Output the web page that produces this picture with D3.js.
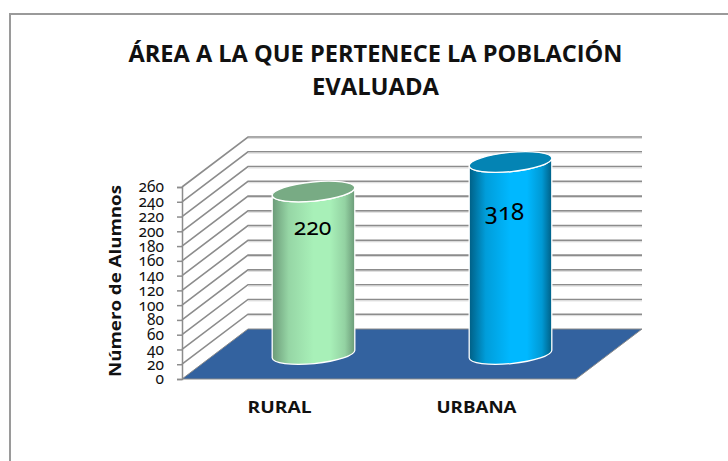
<!DOCTYPE html>
<html><head><meta charset="utf-8">
<script src="https://cdn.jsdelivr.net/npm/d3@7"></script>
<style>
html,body{margin:0;padding:0;background:#fff}
svg{display:block}
.num{font-family:"Noto Sans","Open Sans",sans-serif;font-variant-numeric:oldstyle-nums;font-feature-settings:"onum" 1}
</style></head><body>
<svg id="c" width="728" height="461"></svg>
<script>
const categories = ["RURAL","URBANA"];
const values = [220,318];
const bodyColors = ["#a8f0b8","#00b8ff"];
const edgeColors = ["#6b9a78","#005f85"];
const topColors = ["#78ab84","#0484b4"];
const yTicks = d3.range(0,261,20);
const titleLines = ["ÁREA A LA QUE PERTENECE LA POBLACIÓN","EVALUADA"];
const yTitle = "Número de Alumnos";

const svg = d3.select("#c");
const defs = svg.append("defs");
svg.append("path").attr("d","M10,461V14H728").attr("fill","none").attr("stroke","#9a9a9a").attr("stroke-width",2);
svg.append("g").selectAll("text").data(titleLines).join("text")
  .attr("x",375.5).attr("y",(d,i)=>62+i*32.5)
  .attr("text-anchor","middle").attr("font-family","'Open Sans',sans-serif").attr("font-weight",700)
  .attr("font-size",24).attr("textLength",(d,i)=>i?127:494).attr("lengthAdjust","spacingAndGlyphs")
  .attr("fill","#111").text(d=>d);

const y = d3.scaleLinear().domain([0,260]).range([379,187]).clamp(true);
const x = d3.scaleBand().domain(categories).range([182,576]);
const dx=66, dy=-50;
const g = svg.append("g");
const fl = d3.path();
fl.moveTo(x.range()[0],y(0)); fl.lineTo(x.range()[0]+dx,y(0)+dy); fl.lineTo(x.range()[1]+dx,y(0)+dy); fl.lineTo(x.range()[1],y(0)); fl.closePath();
g.append("path").attr("d",fl.toString()).attr("fill","#33629f").attr("stroke","#8a8a8a").attr("stroke-width",1);
yTicks.forEach(t=>{
  const yy=y(t);
  if(t>0){
    g.append("path").attr("d",`M${x.range()[0]},${yy}L${x.range()[0]+dx},${yy+dy}H${x.range()[1]+dx}`)
     .attr("fill","none").attr("stroke","#8c8c8c").attr("stroke-width",1.6);
    g.append("path").attr("d",`M${x.range()[0]+dx},${yy+dy+1.4}H${x.range()[1]+dx}`)
     .attr("fill","none").attr("stroke","#d9d9d9").attr("stroke-width",1);
  }
});
const ax = svg.append("g").attr("transform",`translate(${x.range()[0]},0)`)
  .call(d3.axisLeft(y).tickValues(yTicks).tickSize(5).tickPadding(13));
ax.selectAll("path,line").attr("stroke","#8c8c8c").attr("stroke-width",1.5);
ax.selectAll("text").attr("class","num").attr("font-size",15.5).attr("fill","#111");
svg.append("text").attr("transform","translate(121,281) rotate(-90)").attr("text-anchor","middle")
  .attr("font-family","'Open Sans',sans-serif").attr("font-weight",700).attr("font-size",16.5)
  .attr("textLength",192).attr("lengthAdjust","spacingAndGlyphs").attr("fill","#111").text(yTitle);
svg.append("g").selectAll("text").data(categories).join("text")
  .attr("x",d=>x(d)+x.bandwidth()/2-1).attr("y",413).attr("text-anchor","middle")
  .attr("font-family","'Open Sans',sans-serif").attr("font-weight",700).attr("font-size",16)
  .attr("textLength",d=>d==="RURAL"?64:80).attr("lengthAdjust","spacingAndGlyphs").attr("fill","#111").text(d=>d);
const rx=41.5, ry=9.6, tilt=-5.5;
categories.forEach((c,i)=>{
  const id="grad"+i;
  const gr=defs.append("linearGradient").attr("id",id).attr("x1",0).attr("x2",1).attr("y1",0).attr("y2",0);
  [[0,edgeColors[i]],[.2,d3.interpolateRgb(edgeColors[i],bodyColors[i])(.7)],[.5,bodyColors[i]],[.7,bodyColors[i]],[.88,d3.interpolateRgb(edgeColors[i],bodyColors[i])(.65)],[1,edgeColors[i]]]
    .forEach(s=>gr.append("stop").attr("offset",s[0]).attr("stop-color",s[1]));
  const cx=x(c)+x.bandwidth()/2+dx/2;
  const by=y(0)+dy/2, ty=y(values[i])+dy/2;
  const a=tilt*Math.PI/180;
  const lx=rx*Math.cos(a), ly=rx*Math.sin(a);
  const body=`M${cx-lx},${ty-ly}L${cx-lx},${by-ly}A${rx},${ry} ${tilt} 0 0 ${cx+lx},${by+ly}L${cx+lx},${ty+ly}A${rx},${ry} ${tilt} 0 1 ${cx-lx},${ty-ly}Z`;
  g.append("path").attr("d",body).attr("fill",`url(#${id})`).attr("stroke","#fff").attr("stroke-width",1.3);
  g.append("ellipse").attr("transform",`translate(${cx},${ty}) rotate(${tilt})`).attr("rx",rx).attr("ry",ry)
    .attr("fill",topColors[i]).attr("stroke","#fff").attr("stroke-width",1.3);
  svg.append("text").attr("class","num").attr("x",cx-1+(i?-5:0)).attr("y",i?220:235).attr("text-anchor","middle")
    .attr("font-size",i?24:23).attr("fill","#000").text(values[i]);
});
</script></body></html>
